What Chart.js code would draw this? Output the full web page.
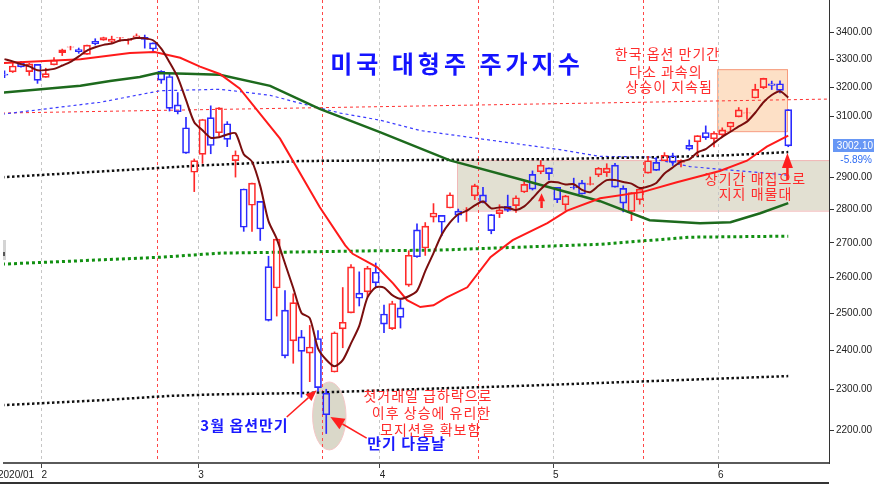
<!DOCTYPE html>
<html><head><meta charset="utf-8">
<script src="https://cdn.jsdelivr.net/npm/chart.js@4.4.1/dist/chart.umd.min.js"></script>
<style>html,body{margin:0;padding:0;background:#fff;overflow:hidden}canvas{display:block}</style>
</head><body>
<canvas id="c" width="874" height="484"></canvas>
<script>
// ---- categories (trading days 2020) ----
const dates = ('01-27 01-28 01-29 01-30 01-31 02-03 02-04 02-05 02-06 02-07 02-10 02-11 02-12 02-13 02-14 02-18 02-19 02-20 02-21 02-24 02-25 02-26 02-27 02-28 03-02 03-03 03-04 03-05 03-06 03-09 03-10 03-11 03-12 03-13 03-16 03-17 03-18 03-19 03-20 03-23 03-24 03-25 03-26 03-27 03-30 03-31 04-01 04-02 04-03 04-06 04-07 04-08 04-09 04-13 04-14 04-15 04-16 04-17 04-20 04-21 04-22 04-23 04-24 04-27 04-28 04-29 04-30 05-01 05-04 05-05 05-06 05-07 05-08 05-11 05-12 05-13 05-14 05-15 05-18 05-19 05-20 05-21 05-22 05-26 05-27 05-28 05-29 06-01 06-02 06-03 06-04 06-05 06-08 06-09 06-10 06-11').split(' ');
const expiryDates = ['02-21','03-20','04-17','05-15'];
const monthNames = {'02':'2','03':'3','04':'4','05':'5','06':'6'};

// ---- OHLC ----
const opens = [3247.2,3255.4,3289.5,3256.5,3282.3,3235.7,3280.6,3324.9,3344.9,3335.5,3318.3,3365.9,3370.5,3365.9,3378.1,3369.0,3380.4,3380.5,3360.5,3257.6,3238.9,3139.9,3062.5,2916.9,2974.3,3096.5,3045.8,3075.7,2954.2,2863.9,2813.5,2825.6,2630.9,2570.0,2508.6,2425.7,2436.5,2393.5,2431.9,2290.7,2344.4,2457.8,2501.3,2555.9,2559.0,2614.7,2498.1,2458.5,2514.9,2578.3,2738.7,2685.0,2777.0,2782.5,2805.1,2795.6,2799.3,2842.4,2845.6,2784.8,2787.9,2810.4,2812.6,2854.7,2910.0,2918.5,2930.9,2869.1,2815.0,2868.9,2883.1,2878.3,2908.8,2915.5,2939.5,2865.9,2794.5,2830.0,2913.9,2948.6,2953.6,2970.0,2948.1,3004.1,3015.7,3046.6,3025.2,3038.8,3064.8,3098.9,3111.6,3163.8,3199.9,3213.3,3213.4,3123.5];
const highs = [3258.9,3285.8,3293.5,3285.9,3282.3,3268.4,3306.9,3337.6,3348.0,3341.4,3352.3,3375.6,3381.5,3385.1,3380.7,3375.0,3393.5,3389.2,3360.8,3259.8,3247.0,3182.5,3097.1,2959.7,3091.0,3136.7,3131.0,3083.0,2985.9,2863.9,2882.6,2825.6,2661.0,2711.3,2563.0,2553.9,2453.6,2467.0,2453.0,2300.7,2449.7,2571.4,2637.0,2615.9,2631.8,2641.4,2522.8,2533.2,2538.2,2676.9,2756.9,2760.8,2818.6,2782.5,2851.9,2801.9,2806.5,2879.2,2869.0,2785.5,2815.1,2844.9,2842.7,2887.7,2921.2,2954.9,2930.9,2869.1,2844.2,2898.2,2891.1,2901.9,2932.2,2944.3,2945.8,2874.1,2852.8,2865.0,2968.1,2964.2,2980.3,2978.5,2956.8,3021.7,3036.3,3068.7,3049.2,3062.2,3081.1,3130.9,3128.9,3211.7,3233.1,3222.7,3223.3,3123.5];
const lows = [3234.5,3253.2,3271.9,3242.8,3214.7,3235.7,3280.6,3313.8,3334.4,3322.1,3317.8,3352.7,3369.7,3360.5,3366.2,3355.6,3378.8,3341.0,3328.5,3214.7,3118.8,3109.0,2977.4,2855.8,2945.2,2976.6,3034.4,2999.8,2901.5,2734.4,2734.0,2707.2,2478.9,2492.4,2380.9,2367.0,2280.5,2319.8,2295.6,2191.9,2344.4,2407.5,2500.7,2520.0,2545.3,2571.2,2447.5,2455.8,2460.0,2574.6,2657.7,2663.3,2762.4,2721.2,2805.1,2761.5,2764.3,2830.9,2820.4,2727.1,2776.0,2794.3,2791.8,2852.9,2860.7,2912.2,2892.5,2821.6,2797.9,2863.6,2847.7,2876.5,2902.9,2903.4,2869.6,2793.2,2766.6,2816.8,2913.9,2922.4,2953.6,2938.6,2933.6,2988.2,2969.8,3023.4,2998.6,3031.5,3051.6,3098.9,3090.4,3163.8,3196.0,3193.1,3181.5,2999.5];
const closes = [3243.6,3276.2,3273.4,3283.7,3225.5,3248.9,3297.6,3334.7,3345.8,3327.7,3352.1,3357.8,3379.5,3373.9,3380.2,3370.3,3386.2,3373.2,3337.8,3225.9,3128.2,3116.4,2978.8,2954.2,3090.2,3003.4,3130.1,3023.9,2972.4,2746.6,2882.2,2741.4,2480.6,2711.0,2386.1,2529.2,2398.1,2409.4,2304.9,2237.4,2447.3,2475.6,2630.1,2541.5,2626.7,2584.6,2470.5,2526.9,2488.7,2663.7,2659.4,2750.0,2789.8,2761.6,2846.1,2783.4,2799.6,2874.6,2823.2,2736.6,2799.3,2797.8,2836.7,2878.5,2863.4,2939.5,2912.4,2830.7,2842.7,2868.4,2848.4,2881.2,2929.8,2930.2,2870.1,2820.0,2852.5,2863.7,2953.9,2922.9,2971.6,2948.5,2955.5,2991.8,3036.1,3029.7,3044.3,3055.7,3080.8,3122.9,3112.4,3193.9,3232.4,3207.2,3190.1,3002.1];

// ---- lines ----
const ma5 = [3301,3293,3283,3275,3261,3262,3266,3278,3291,3311,3332,3344,3353,3358,3369,3372,3378,3377,3370,3339,3290,3236,3157,3081,3054,3029,3031,3040,3044,2975,2951,2873,2765,2712,2640,2570,2501,2487,2406,2376,2359,2375,2419,2466,2544,2572,2571,2550,2540,2547,2562,2618,2670,2725,2761,2786,2796,2813,2825,2804,2807,2806,2799,2810,2835,2863,2886,2885,2878,2879,2861,2854,2874,2892,2892,2886,2881,2867,2872,2883,2913,2932,2951,2958,2981,2992,3012,3032,3049,3067,3083,3113,3149,3174,3187,3165];
const ma20 = [[-0.3,3287],[9.2,3301],[15.2,3323],[18.2,3327],[21.3,3306],[23.7,3274],[26.1,3248],[28.5,3197],[33.4,3026],[38.2,2808],[41.3,2693],[42.2,2668],[45.2,2629],[47.1,2583],[48.8,2536],[50.4,2517],[52,2522],[53.6,2544],[56.1,2572],[58.9,2658],[61.6,2708],[65.8,2759],[68.2,2797],[72.2,2835],[77.4,2855],[81.5,2885],[86.7,2921],[90,2954],[92.4,3000],[95,3036]];
const ma60 = [[-0.3,3182],[9.2,3206],[12.8,3223],[16.4,3237],[18.5,3251],[22.1,3249],[26.1,3245],[32.2,3206],[38.2,3126],[45.5,3048],[54,2955],[63.7,2886],[72.2,2826],[78.2,2768],[84.3,2759],[88,2762],[91.6,2789],[95,2820]];
const ma120 = [[-0.3,3108],[11.6,3149],[18.9,3189],[26.1,3194],[28.5,3186],[32.2,3173],[35.8,3146],[40.7,3112],[45.5,3088],[50.4,3053],[67.3,2990],[72.2,2968],[78.2,2966],[79.4,2956],[83.1,2935],[94.9,2908]];
const bandUpper = [[-0.3,2901],[12,2920],[24,2939],[36,2953],[50,2956],[66,2959],[80,2966],[88,2972],[95,2982]];
const bandLower = [[-0.3,2261],[11.6,2273],[20,2284],[26,2288],[36,2291],[53,2303],[61,2308],[78,2321],[95,2334]];
const ma200 = [[-0.3,2638],[18.9,2658],[26.1,2670],[45.5,2677],[52.8,2679],[72.2,2696],[83.1,2717],[95,2720]];
const trendLine = [[-0.3,3112],[99.94,3160]];

const yTicks = [2200,2300,2400,2500,2600,2700,2800,2900,3000,3100,3200,3300,3400].filter(v=>v!==3000);
const Y_MIN = 2122.4, Y_MAX = 3521.6, X_MIN = -0.06, X_MAX = 99.94;

// ---- annotations in data coords ----
const zoneBox = {x0:54.85, x1:99.94, v0:2797, v1:2956};
const rallyBox = {x0:86.4, x1:94.85, v0:3051, v1:3265};
const dayAfter = {i:39.37, v:2234.5, rx:16.7, ry:34};
const notes = [
  {t:'미국 대형주 주가지수', at:[54.6,3285], font:'700 24px "Noto Sans CJK KR"', color:'#1414ff', ls:4},
  {t:'한국 옵션 만기간', at:[80.3,3319], font:'400 14px "Noto Sans CJK KR"', color:'#ff2b2b', ls:1},
  {t:'다소 과속의', at:[80.1,3255], font:'400 14px "Noto Sans CJK KR"', color:'#ff2b2b', ls:1},
  {t:'상승이 지속됨', at:[80.5,3203], font:'400 14px "Noto Sans CJK KR"', color:'#ff2b2b', ls:1},
  {t:'장기간 매집으로', at:[90.97,2898], font:'400 14px "Noto Sans CJK KR"', color:'#ff2b2b', ls:1},
  {t:'지지 매물대', at:[90.97,2848], font:'400 14px "Noto Sans CJK KR"', color:'#ff2b2b', ls:1},
  {t:'첫거래일 급하락으로', at:[51.27,2285], font:'400 14px "Noto Sans CJK KR"', color:'#ff2b2b', ls:1},
  {t:'이후 상승에 유리한', at:[51.7,2243], font:'400 14px "Noto Sans CJK KR"', color:'#ff2b2b', ls:1},
  {t:'모지션을 확보함', at:[51.6,2200], font:'400 14px "Noto Sans CJK KR"', color:'#ff2b2b', ls:1},
  {t:'3월 옵션만기', at:[29.03,2212], font:'700 15px "Noto Sans CJK KR"', color:'#1a1aff', ls:1},
  {t:'만기 다음날', at:[48.67,2168], font:'700 15px "Noto Sans CJK KR"', color:'#1a1aff', ls:1}
];
const arrows = [
  {from:[34.21,2232], to:[37.84,2298], head:11, hw:4.5, w:1.5},
  {from:[43.9,2181], to:[39.5,2232], head:14, hw:6, w:1.5},
  {from:[94.9,2892], to:[94.9,2979], head:15, hw:5.5, w:2.5},
  {from:[65.1,2805], to:[65.1,2851], head:8, hw:3.5, w:2.5}
];

const UP = '#ff2a2a', DOWN = '#2a2aff';
const idx = dates.map((d,i)=>i);
const isUp = idx.map(i => closes[i] >= opens[i]);
const candleColor = idx.map(i => isUp[i] ? UP : DOWN);
const monthTicks = [], monthLabels = [];
dates.forEach((d,i)=>{ if(i>0 && d.slice(0,2)!==dates[i-1].slice(0,2)){ monthTicks.push(i-0.5); monthLabels.push(monthNames[d.slice(0,2)]); }});
const expiryTicks = expiryDates.map(d => dates.indexOf(d)+0.5);
const allXTicks = monthTicks.concat(expiryTicks).sort((a,b)=>a-b);
const pts = arr => arr.map(([x,y])=>({x,y}));

function lineDS(data, color, width, dash, order, tension){
  return {type:'line', data, borderColor:color, borderWidth:width, borderDash:dash||[], pointRadius:0,
    fill:false, order, tension:tension||0, borderCapStyle:'butt'};
}

const annot = {
  id:'annot',
  beforeDraw(chart){
    const {ctx, chartArea:a, scales:{x,y}} = chart;
    ctx.save();
    ctx.beginPath(); ctx.rect(a.left,a.top,a.right-a.left,a.bottom-a.top); ctx.clip();
    // long-term accumulation zone
    let X0=x.getPixelForValue(zoneBox.x0), X1=x.getPixelForValue(zoneBox.x1), Y0=y.getPixelForValue(zoneBox.v1), Y1=y.getPixelForValue(zoneBox.v0);
    ctx.fillStyle='#e2e0d2'; ctx.fillRect(X0,Y0,X1-X0,Y1-Y0);
    ctx.strokeStyle='#f2b8b8'; ctx.lineWidth=1; ctx.strokeRect(X0+0.5,Y0+0.5,X1-X0,Y1-Y0);
    // rally box
    X0=x.getPixelForValue(rallyBox.x0); X1=x.getPixelForValue(rallyBox.x1); Y0=y.getPixelForValue(rallyBox.v1); Y1=y.getPixelForValue(rallyBox.v0);
    ctx.fillStyle='#fde0c6'; ctx.fillRect(X0,Y0,X1-X0,Y1-Y0);
    ctx.strokeStyle='#f79a7c'; ctx.strokeRect(X0+0.5,Y0+0.5,X1-X0,Y1-Y0);
    // ellipse around day-after candle
    const cx=x.getPixelForValue(dayAfter.i), cy=y.getPixelForValue(dayAfter.v);
    ctx.beginPath(); ctx.ellipse(cx,cy,dayAfter.rx,dayAfter.ry,0,0,Math.PI*2);
    ctx.fillStyle='#dad8c9'; ctx.fill(); ctx.strokeStyle='#f4c6c6'; ctx.stroke();
    ctx.restore();
  },
  afterDatasetsDraw(chart){
    const {ctx, scales:{x,y}} = chart;
    ctx.save();
    // arrows
    arrows.forEach(ar=>{
      const x1=x.getPixelForValue(ar.from[0]), y1=y.getPixelForValue(ar.from[1]);
      const x2=x.getPixelForValue(ar.to[0]), y2=y.getPixelForValue(ar.to[1]);
      const ang=Math.atan2(y2-y1,x2-x1), bx=x2-Math.cos(ang)*ar.head, by=y2-Math.sin(ang)*ar.head;
      ctx.strokeStyle='#ff1f1f'; ctx.fillStyle='#ff1f1f'; ctx.lineWidth=ar.w;
      ctx.beginPath(); ctx.moveTo(x1,y1); ctx.lineTo(bx,by); ctx.stroke();
      ctx.beginPath(); ctx.moveTo(x2,y2);
      ctx.lineTo(bx+Math.sin(ang)*ar.hw, by-Math.cos(ang)*ar.hw);
      ctx.lineTo(bx-Math.sin(ang)*ar.hw, by+Math.cos(ang)*ar.hw);
      ctx.closePath(); ctx.fill();
    });
    // texts
    notes.forEach(n=>{
      ctx.font=n.font; ctx.fillStyle=n.color; ctx.textAlign='center'; ctx.textBaseline='middle';
      ctx.letterSpacing=(n.ls||0)+'px';
      ctx.fillText(n.t, x.getPixelForValue(n.at[0])+(n.ls||0)/2, y.getPixelForValue(n.at[1]));
    });
    ctx.letterSpacing='0px';
    ctx.restore();
  },
  afterDraw(chart){
    const {ctx, chartArea:a, scales:{y}} = chart;
    ctx.save();
    const last=closes[closes.length-1], prev=closes[closes.length-2];
    const py=Math.round(y.getPixelForValue(last));
    ctx.fillStyle='#6797f5'; ctx.fillRect(a.right+4, py-7, chart.width-a.right-4, 13);
    ctx.font='10px "Liberation Sans"'; ctx.textAlign='right'; ctx.textBaseline='middle';
    ctx.fillStyle='#ffffff'; ctx.fillText(last.toFixed(2), chart.width-1, py);
    ctx.fillStyle='#2f6cf3'; ctx.fillText(((last/prev-1)*100).toFixed(2)+'%', chart.width-2, py+14);
    // start label
    ctx.fillStyle='#222'; ctx.textAlign='left'; ctx.textBaseline='top';
    ctx.fillText('2020/01', -2, a.bottom+7);
    // bottom frame line
    ctx.fillStyle='#333'; ctx.fillRect(0, chart.height-2, a.right, 2);
    // small scroll grip at the left edge
    ctx.fillStyle='#d4d4d4'; ctx.fillRect(3,240,3,20);
    ctx.fillStyle='#555'; ctx.fillRect(3,252,2,4);
    ctx.restore();
  }
};

new Chart(document.getElementById('c'), {
  type:'bar',
  data:{ datasets:[
    lineDS(pts(bandUpper),'#111',2.5,[2.5,2.5],20),
    lineDS(pts(bandLower),'#111',2.5,[2.5,2.5],20),
    lineDS(pts(ma200),'#119011',3,[3,3],20),
    lineDS(pts(ma120),'#3b3bff',1.2,[3,3],20),
    lineDS(pts(trendLine),'#ff3030',1,[3,3],20),
    {type:'bar', data: idx.map(i=>({x:i, y:[Math.max(opens[i],closes[i]), highs[i]]})), backgroundColor:candleColor, borderWidth:0, barThickness:1, grouped:false, order:12},
    {type:'bar', data: idx.map(i=>({x:i, y:[lows[i], Math.min(opens[i],closes[i])]})), backgroundColor:candleColor, borderWidth:0, barThickness:1, grouped:false, order:12},
    {type:'bar', data: idx.map(i=>({x:i, y:[opens[i], closes[i]]})), backgroundColor:'rgba(255,255,255,0)', borderColor:candleColor, borderWidth:1, borderSkipped:false, barThickness:7, grouped:false, order:11},
    lineDS(pts(ma60),'#1d6a1d',2.5,[],3),
    lineDS(pts(ma20),'#ff1a1a',2,[],2),
    lineDS(idx.map(i=>({x:i,y:ma5[i]})),'#7a0e0e',2,[],1,0.25)
  ]},
  options:{
    responsive:false, animation:false, devicePixelRatio:1,
    layout:{padding:{left:4,right:0,top:0,bottom:0}},
    plugins:{legend:{display:false}, tooltip:{enabled:false}},
    scales:{
      x:{type:'linear', min:X_MIN, max:X_MAX, offset:false, bounds:'data',
        afterBuildTicks: s => { s.ticks = allXTicks.map(v=>({value:v})); },
        afterFit: s => { s.height = 21; s.paddingLeft=0; s.paddingRight=0; },
        ticks:{autoSkip:false, maxRotation:0, minRotation:0, align:'start', padding:1, color:'#222',
          font:{family:'Liberation Sans', size:10},
          callback: v => { const k=monthTicks.indexOf(v); return k>=0 ? monthLabels[k] : ''; }},
        grid:{offset:false, drawTicks:true, tickLength:5, lineWidth:1,
          color: c => (c.tick && expiryTicks.includes(c.tick.value)) ? '#ff4747' : '#c6c6c6',
          tickColor: c => (c.tick && expiryTicks.includes(c.tick.value)) ? 'rgba(0,0,0,0)' : '#444'},
        border:{display:true, color:'#5a5a5a', width:2, dash:[3,3]}
      },
      y:{type:'logarithmic', position:'right', min:Y_MIN, max:Y_MAX, bounds:'data', beginAtZero:false,
        afterBuildTicks: s => { s.ticks = yTicks.map(v=>({value:v})); },
        afterFit: s => { s.width = 45; s.paddingTop=0; s.paddingBottom=0; },
        ticks:{autoSkip:false, padding:2, color:'#222', font:{family:'Liberation Sans', size:10},
          callback: v => Number(v).toFixed(2)},
        grid:{drawOnChartArea:false, drawTicks:true, tickLength:5, tickColor:'#333'},
        border:{display:true, color:'#333', width:1}
      }
    }
  },
  plugins:[annot]
});
</script>
</body></html>
